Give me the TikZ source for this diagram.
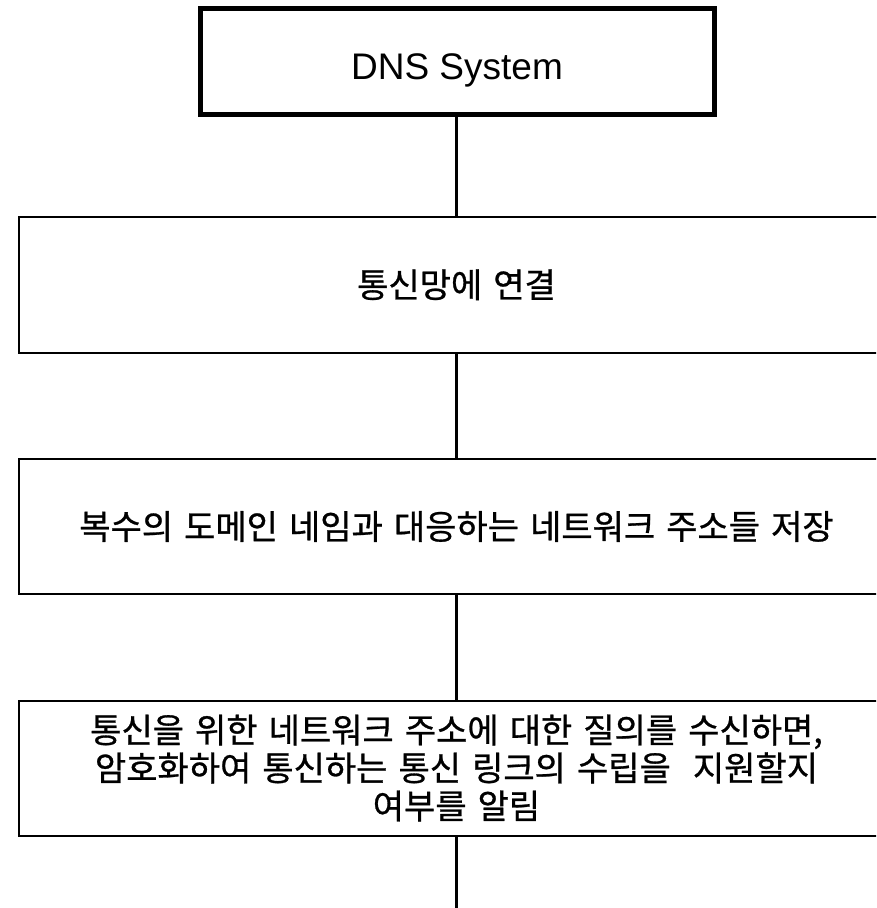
\documentclass[tikz,border=0pt]{standalone}
\usepackage{fontspec}
\setmainfont{Liberation Sans}
\newfontfamily\kr[WordSpace=1.45,FakeBold=0.8]{Noto Sans CJK KR}
\begin{document}
\begin{tikzpicture}[x=1pt,y=-1pt,
  topbox/.style={draw=black,line width=5pt,minimum width=514pt,minimum height=106pt,inner sep=0pt,text height=35.6pt,text depth=0pt,font=\fontsize{37}{44}\selectfont},
  stepbox/.style={draw=black,line width=2pt,minimum width=875pt,inner sep=0pt,align=center,font=\kr\fontsize{34}{38}\selectfont},
  link/.style={draw=black,line width=3pt}]
\useasboundingbox (0,0) rectangle (876,908);
\clip (0,0) rectangle (876,908);
\node[topbox] (top) at (457,61.5) {DNS System};
\node[stepbox,minimum height=135.5pt] (b2) at (456.5,284.75) {통신망에 연결};
\node[stepbox,minimum height=135pt] (b3) at (456.5,526.5) {복수의 도메인 네임과 대응하는 네트워크 주소들 저장};
\node[stepbox,minimum height=135pt] (b4) at (456.5,768) {통신을 위한 네트워크 주소에 대한 질의를 수신하면,\\암호화하여 통신하는 통신 링크의 수립을\ \ 지원할지\\여부를 알림};
\coordinate (end) at (456.5,910);
\draw[link] (top.south -| b2.north) -- (b2.north);
\draw[link] (b2.south) -- (b3.north);
\draw[link] (b3.south) -- (b4.north);
\draw[link] (b4.south) -- (end);
\end{tikzpicture}
\end{document}
